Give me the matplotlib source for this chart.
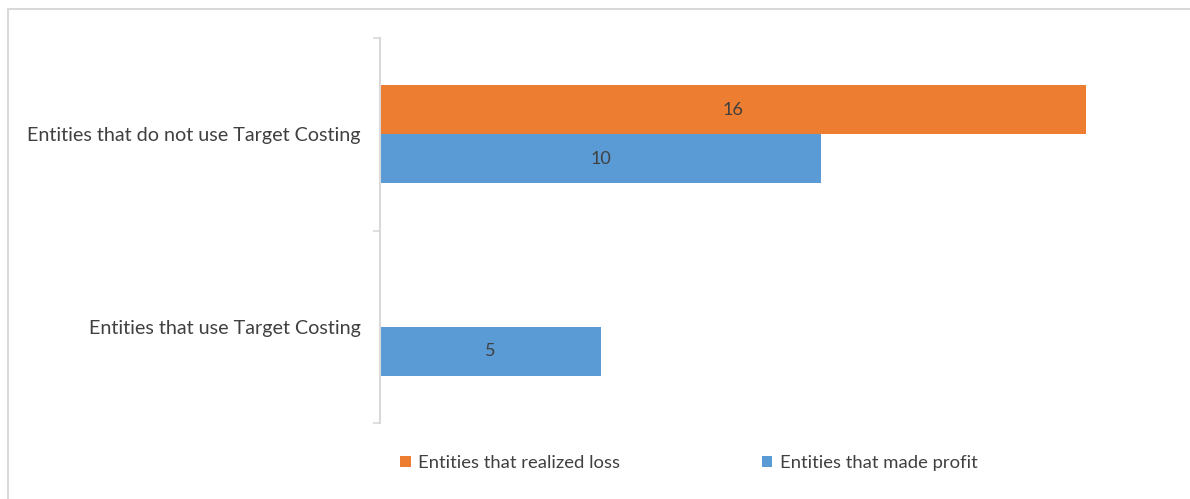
import matplotlib.pyplot as plt
import numpy as np
from matplotlib.patches import Rectangle

plt.rcParams['font.family'] = ['Lato', 'DejaVu Sans']

categories = ['Entities that use Target Costing', 'Entities that do not use Target Costing']
loss = [0, 16]
profit = [5, 10]
series_names = ['Entities that realized loss', 'Entities that made profit']

orange = '#ED7D31'
blue = '#5B9BD5'
text_col = '#404040'
grid_col = '#D9D9D9'

W, H = 1190, 499
fig = plt.figure(figsize=(W / 100, H / 100), dpi=100)
ax = fig.add_axes([380 / W, 1 - 423 / H, (1174 - 380) / W, (423 - 38) / H])

y = np.arange(len(categories))
h = 0.255
b_loss = ax.barh(y + h / 2, loss, height=h, color=orange)
b_profit = ax.barh(y - h / 2, profit, height=h, color=blue)

for bars, vals in ((b_loss, loss), (b_profit, profit)):
    for rect, v in zip(bars, vals):
        if v == 0:
            continue
        ax.text(rect.get_x() + rect.get_width() / 2, rect.get_y() + rect.get_height() / 2,
                str(v), ha='center', va='center', fontsize=13, color=text_col)

ax.set_xlim(0, 18)
ax.set_ylim(-0.5, 1.5)
ax.set_xticks([])

# category boundaries get the small tick marks, names sit on minor ticks
ax.set_yticks([-0.5, 0.5, 1.5])
ax.set_yticklabels([])
ax.set_yticks(y, minor=True)
ax.set_yticklabels(categories, minor=True, fontsize=14.2, color=text_col)
ax.tick_params(axis='y', which='major', length=5, width=1.2, color=grid_col)
ax.tick_params(axis='y', which='minor', length=0, pad=14)

for s in ['top', 'right', 'bottom']:
    ax.spines[s].set_visible(False)
ax.spines['left'].set_color(grid_col)
ax.spines['left'].set_linewidth(1.5)

leg = fig.legend([b_loss, b_profit], series_names, loc='center',
                 bbox_to_anchor=(689 / W, 1 - 463 / H), ncol=2, frameon=False,
                 fontsize=13.3, handlelength=0.55, handleheight=0.55, handletextpad=0.4,
                 columnspacing=7.7, labelcolor=text_col)

# outer chart frame (only left and top edges are in view)
fig.patches.append(Rectangle((8 / W, -0.1), 1.2, 1 - 9 / H + 0.1, transform=fig.transFigure,
                             fill=False, edgecolor=grid_col, linewidth=1.5))

fig.savefig('out.png', dpi=100, facecolor='white')
